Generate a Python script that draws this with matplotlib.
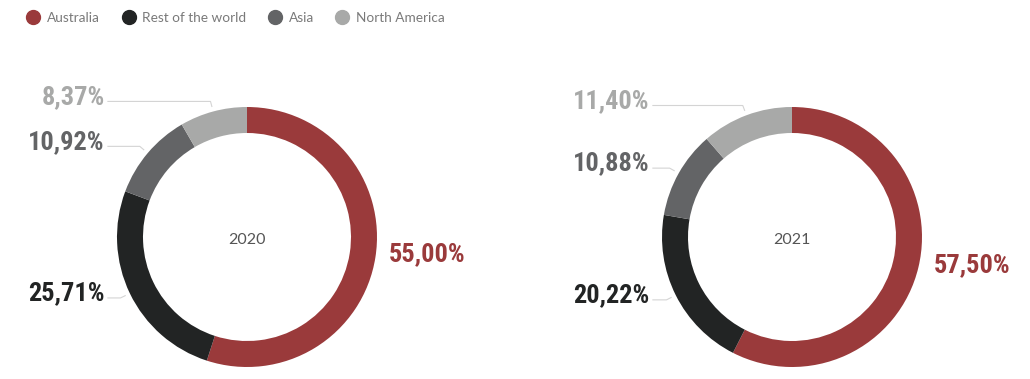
import numpy as np
import matplotlib.pyplot as plt
from matplotlib import font_manager
from matplotlib.lines import Line2D

# Dados
categorias = ["Australia", "Rest of the world", "Asia", "North America"]
cores = ["#9a3a3b", "#222424", "#636466", "#a8a9a8"]
anos = ["2020", "2021"]
valores_2020 = [55.00, 25.71, 10.92, 8.37]
valores_2021 = [57.50, 20.22, 10.88, 11.40]
rotulos_2020 = ["55,00%", "25,71%", "10,92%", "8,37%"]
rotulos_2021 = ["57,50%", "20,22%", "10,88%", "11,40%"]


def escolhe_fonte(opcoes):
    for nome in opcoes:
        try:
            font_manager.findfont(nome, fallback_to_default=False)
            return nome
        except ValueError:
            continue
    return "DejaVu Sans"


fonte_num = escolhe_fonte(["Roboto Condensed", "Liberation Sans Narrow", "DejaVu Sans"])
fonte_txt = escolhe_fonte(["Lato", "Noto Sans", "DejaVu Sans"])

W, H = 1030, 379
fig = plt.figure(figsize=(W / 100, H / 100), dpi=100)
R = 130  # raio externo em pixels


def donut(cx, cy, valores, rotulos, ano, x0, x1):
    # eixo cobrindo toda a altura, escala 1 unidade = R pixels
    ax = fig.add_axes([x0 / W, 0, (x1 - x0) / W, 1])
    ax.pie(valores, colors=cores, startangle=90, counterclock=False, radius=1,
           wedgeprops=dict(width=0.2, linewidth=0))
    ax.set_aspect("auto")
    ax.set_xlim((x0 - cx) / R, (x1 - cx) / R)
    ax.set_ylim(-(H - cy) / R, cy / R)
    ax.axis("off")
    ax.text(0, -0.02, ano, ha="center", va="center", fontsize=11.5,
            color="#555555", family=fonte_txt)

    total = sum(valores)
    acumulado = 0
    for v, rot, cor in zip(valores, rotulos, cores):
        meio = (acumulado + v / 2) / total
        acumulado += v
        ang = np.deg2rad(90 - meio * 360)
        xa, ya = 1.04 * np.cos(ang), 1.04 * np.sin(ang)
        xk, yk = 1.08 * np.cos(ang), 1.08 * np.sin(ang)
        if xk < 0:
            ax.plot([xa, xk, -1.07], [ya, yk, yk], color="#d4d4d4", lw=0.8)
            ax.text(-1.095, yk + 0.035, rot, ha="right", va="center",
                    fontsize=19, fontweight="bold", color=cor, family=fonte_num)
        else:
            ax.text(1.09, yk + 0.035, rot, ha="left", va="center",
                    fontsize=19, fontweight="bold", color=cor, family=fonte_num)


donut(247, 237, valores_2020, rotulos_2020, anos[0], 0, 500)
donut(792, 237, valores_2021, rotulos_2021, anos[1], 540, 1030)

# Legenda
marcadores = [Line2D([], [], marker="o", ls="", markersize=10, color=c) for c in cores]
leg = fig.legend(marcadores, categorias, loc="upper left", bbox_to_anchor=(0.014, 1.0),
                 ncol=4, frameon=False, handlelength=1.0, handletextpad=0.5,
                 columnspacing=1.6, prop={"family": fonte_txt, "size": 9.8})
for t in leg.get_texts():
    t.set_color("#7a7a7a")

plt.savefig("out.png", dpi=100, facecolor="white")
